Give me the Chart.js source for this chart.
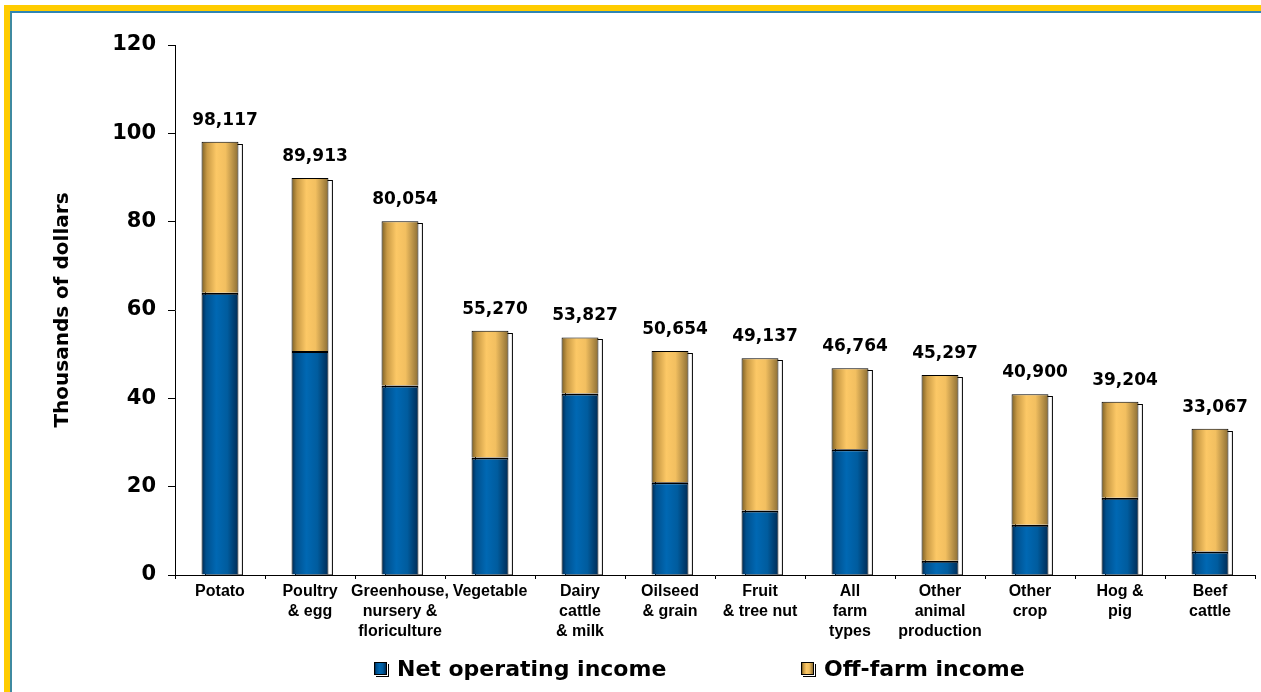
<!DOCTYPE html>
<html>
<head>
<meta charset="utf-8">
<title>Farm income by farm type</title>
<script src="https://cdn.jsdelivr.net/npm/chart.js@4.4.1/dist/chart.umd.min.js"></script>
<style>
  body { margin: 0; background: #fff; overflow: hidden; }
  .frame { position: absolute; left: 4px; top: 5px; width: 1400px; height: 800px;
           border-top: 6px solid #ffcc00; border-left: 6px solid #ffcc00; }
  .frame div { width: 100%; height: 100%; border-top: 2px solid #2f86b4; border-left: 2px solid #3f8aa0; }
  #myChart { position: absolute; left: 0; top: 0; }
  .legItem { position: absolute; top: 656px; font: bold 22px 'DejaVu Sans', sans-serif; color: #000;
             display: flex; align-items: center; white-space: nowrap; }
  .legBox { width: 11px; height: 11px; border: 1px solid #000; margin-right: 10px;
            box-shadow: 1px 1px 0 #fff, 2px 2px 0 #000; }
</style>
</head>
<body>
<div class="frame"><div></div></div>
<canvas id="myChart" width="1261" height="692"></canvas>
<div id="legend"></div>
<script>
'use strict';

// farm types, one label line per entry
let farmTypes = [
    ['Potato'], ['Poultry', '& egg'], ['Greenhouse,', 'nursery &', 'floriculture'], ['Vegetable'],
    ['Dairy', 'cattle', '& milk'], ['Oilseed', '& grain'], ['Fruit', '& tree nut'], ['All', 'farm', 'types'],
    ['Other', 'animal', 'production'], ['Other', 'crop'], ['Hog &', 'pig'], ['Beef', 'cattle']
];

let seriesNames = ['Net operating income', 'Off-farm income'];

// thousands of dollars
let netIncome = [63.9, 50.7, 42.9, 26.6, 41.1, 21.0, 14.6, 28.5, 3.2, 11.4, 17.5, 5.3];
let offFarm = [34.2, 39.2, 37.2, 28.7, 12.7, 29.7, 34.5, 18.3, 42.1, 29.5, 21.7, 27.8];
let totalLabels = ['98,117', '89,913', '80,054', '55,270', '53,827', '50,654', '49,137', '46,764', '45,297', '40,900', '39,204', '33,067'];

let yTicks = [0, 20, 40, 60, 80, 100, 120];

let blueStops = [[0, '#00264a'], [0.12, '#004f8c'], [0.4, '#0068b3'], [0.7, '#005c9e'], [1, '#002b55']];
let goldStops = [[0, '#7a5f25'], [0.15, '#c99a45'], [0.4, '#fcc866'], [0.65, '#f2bf60'], [1, '#8c6e34']];

let barPct = 0.41;

function barFill(stops, solid) {
    return function (ctx) {
        let chart = ctx.chart;
        if (ctx.type !== 'data' || !chart.chartArea) {
            return solid;
        }
        let xScale = chart.scales.x;
        let x = xScale.getPixelForValue(ctx.dataIndex);
        let w = xScale.width / farmTypes.length * barPct;
        let g = chart.ctx.createLinearGradient(x - w / 2, 0, x + w / 2, 0);
        stops.forEach(s => g.addColorStop(s[0], s[1]));
        return g;
    };
}

function cssGradient(stops) {
    return 'linear-gradient(to right, ' + stops.map(s => s[1] + ' ' + (s[0] * 100) + '%').join(', ') + ')';
}

// white offset frame behind each stack
const barShadow = {
    id: 'barShadow',
    beforeDatasetsDraw(chart) {
        let c = chart.ctx;
        let tops = chart.getDatasetMeta(1).data;
        let base = chart.scales.y.getPixelForValue(0);
        c.save();
        c.fillStyle = '#fff';
        c.strokeStyle = '#000';
        c.lineWidth = 1;
        tops.forEach(el => {
            let left = Math.round(el.x - el.width / 2 + 3) + 0.5;
            let top = Math.round(el.y + 2) + 0.5;
            c.fillRect(left, top, el.width, base - top);
            c.strokeRect(left, top, el.width, base - top);
        });
        c.restore();
    }
};

// totals above the stacks
const totalsPlugin = {
    id: 'totals',
    afterDatasetsDraw(chart) {
        let c = chart.ctx;
        let tops = chart.getDatasetMeta(1).data;
        c.save();
        c.font = "bold 17px 'DejaVu Sans', sans-serif";
        c.fillStyle = '#000';
        c.textAlign = 'center';
        c.textBaseline = 'alphabetic';
        tops.forEach((el, i) => {
            c.fillText(totalLabels[i], el.x + 5, el.y - 17);
        });
        c.restore();
    }
};

let ctx = document.getElementById('myChart').getContext('2d');
let myChart = new Chart(ctx, {
    type: 'bar',
    data: {
        labels: farmTypes,
        datasets: [{
            label: seriesNames[0],
            data: netIncome,
            backgroundColor: barFill(blueStops, '#0066b3'),
            borderColor: '#000',
            borderWidth: { top: 2, left: 1, right: 1, bottom: 0 },
            borderSkipped: false,
            categoryPercentage: 1,
            barPercentage: barPct
        }, {
            label: seriesNames[1],
            data: offFarm,
            backgroundColor: barFill(goldStops, '#fcc866'),
            borderColor: '#000',
            borderWidth: { top: 1, left: 1, right: 1, bottom: 0 },
            borderSkipped: false,
            categoryPercentage: 1,
            barPercentage: barPct
        }]
    },
    options: {
        responsive: false,
        animation: false,
        devicePixelRatio: 1,
        layout: { padding: { left: 0, top: 45, right: 6, bottom: 37 } },
        plugins: {
            legend: { display: false },
            tooltip: { enabled: false }
        },
        scales: {
            x: {
                stacked: true,
                afterFit: scale => { scale.height = 80; },
                border: { color: '#000', width: 1 },
                grid: { drawOnChartArea: false, tickLength: 4, tickColor: '#000', offset: true },
                ticks: {
                    autoSkip: false,
                    maxRotation: 0,
                    padding: 3,
                    color: '#000',
                    font: { family: "'Liberation Sans', Arial, sans-serif", size: 16, weight: 'bold', lineHeight: 1.25 }
                }
            },
            y: {
                stacked: true,
                min: yTicks[0],
                max: yTicks[yTicks.length - 1],
                afterFit: scale => { scale.width = 175; },
                afterBuildTicks: scale => { scale.ticks = yTicks.map(v => ({ value: v })); },
                border: { color: '#000', width: 1 },
                grid: { drawOnChartArea: false, tickLength: 7, tickColor: '#000' },
                ticks: {
                    padding: 12,
                    color: '#000',
                    font: { family: "'DejaVu Sans', sans-serif", size: 21, weight: 'bold' }
                },
                title: {
                    display: true,
                    text: 'Thousands of dollars',
                    color: '#000',
                    padding: { top: 51, bottom: 0 },
                    font: { family: "'DejaVu Sans', sans-serif", size: 20, weight: 'bold', lineHeight: 1.2 }
                }
            }
        }
    },
    plugins: [barShadow, totalsPlugin]
});

// legend under the chart, from the dataset names
let legend = document.getElementById('legend');
let legendLeft = [374, 801];
let legendStops = [blueStops, goldStops];
seriesNames.forEach((name, i) => {
    let item = document.createElement('div');
    item.className = 'legItem';
    item.style.left = legendLeft[i] + 'px';
    let box = document.createElement('span');
    box.className = 'legBox';
    box.style.background = cssGradient(legendStops[i]);
    let txt = document.createElement('span');
    txt.textContent = name;
    item.appendChild(box);
    item.appendChild(txt);
    legend.appendChild(item);
});
</script>
</body>
</html>
